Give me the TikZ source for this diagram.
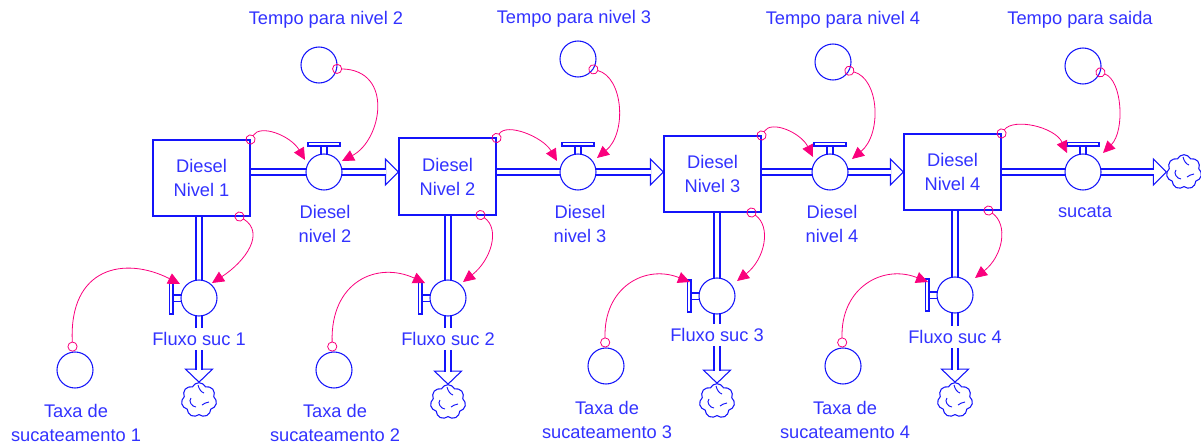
\documentclass[tikz,border=0pt]{standalone}
\usepackage{fontspec}
\setmainfont{Liberation Sans}
\usetikzlibrary{calc,arrows.meta,shapes.symbols}

\definecolor{flowblue}{RGB}{20,20,250}
\definecolor{labelblue}{RGB}{50,50,255}
\definecolor{linkpink}{RGB}{250,0,125}

\tikzset{
  lbl/.style={font=\fontsize{13.7}{18}\selectfont, text=labelblue, inner sep=1pt, align=center},
  stockbox/.style={lbl, draw=flowblue, fill=white, line width=0.8pt,
    minimum width=72.75pt, minimum height=57pt},
  auxvar/.style={circle, draw=flowblue, line width=0.8pt, minimum size=27pt, inner sep=0pt},
  valvebody/.style={circle, draw=flowblue, fill=white, line width=0.8pt, minimum size=27pt, inner sep=0pt},
  valveparts/.style={draw=flowblue, fill=white, line width=0.8pt},
  pipe/.style={draw=flowblue, line width=0.8pt, double=white, double distance=3.7pt},
  pipehead/.style={draw=flowblue, fill=white, line width=0.8pt, line join=miter},
  sink/.style={cloud, cloud puffs=7, cloud puff arc=130, aspect=1, draw=flowblue, fill=white, line width=0.8pt,
    minimum width=26.5pt, minimum height=26pt, inner sep=0pt},
  flowlbl/.style={lbl, fill=white, inner sep=3pt},
  link/.style={draw=linkpink, line width=0.6pt,
    {Circle[open,length=7.5pt]}-{Triangle[length=9pt,width=8.5pt]}, shorten <=-3.75pt},
  linkout/.style={draw=linkpink, line width=0.6pt,
    {Circle[open,length=7.5pt]}-{Triangle[length=9pt,width=8.5pt]}},
}

% valve on a horizontal pipe: body, stem and handle on top
\newcommand\valveH[3]{%
  \draw[valveparts] (#2-3,#3-26) rectangle (#2+3,#3-17);
  \draw[valveparts] (#2-16,#3-29.5) rectangle (#2+16,#3-26);
  \node[valvebody] (#1) at (#2,#3) {};
}
% valve on a vertical pipe: handle on the left side
\newcommand\valveV[3]{%
  \draw[valveparts] (#2-26,#3-3) rectangle (#2-17,#3+3.5);
  \draw[valveparts] (#2-29.5,#3-16) rectangle (#2-26,#3+16);
  \node[valvebody] (#1) at (#2,#3) {};
}
% swirls inside a cloud
\newcommand\swirl[1]{%
  \draw[flowblue, line width=0.7pt] ($(#1)+(-8,-2)$) .. controls +(-3,3) and +(-4,0) .. ($(#1)+(-3,7)$);
  \draw[flowblue, line width=0.7pt] ($(#1)+(10,2)$) .. controls +(-3,0) and +(2,-1) .. ($(#1)+(3,5)$);
  \draw[flowblue, line width=0.7pt] ($(#1)+(-1,-15)$) .. controls +(1,4) and +(-3,-1) .. ($(#1)+(5,-7)$);
}

\begin{document}
\begin{tikzpicture}[x=0.75pt, y=-0.75pt]
\useasboundingbox (0,0) rectangle (1201,443);

% clouds (sources/sinks)
\node[sink] (c1) at (199,400) {};
\node[sink] (c2) at (448,402) {};
\node[sink] (c3) at (717,401) {};
\node[sink] (c4) at (955,400) {};
\node[sink] (c5) at (1184,172) {};
\swirl{c1}\swirl{c2}\swirl{c3}\swirl{c4}\swirl{c5}

% valve positions
\path (324,172) coordinate (pv1) (578,172) coordinate (pv2)
      (830,172) coordinate (pv3) (1083,172) coordinate (pv4)
      (199,298) coordinate (pw1) (448,298) coordinate (pw2)
      (717,296) coordinate (pw3) (955,295) coordinate (pw4);

% stocks
\node[stockbox] (s1) at (201.5,178) {Diesel\\Nivel 1};
\node[stockbox] (s2) at (447.5,176.5) {Diesel\\Nivel 2};
\node[stockbox] (s3) at (712.5,174) {Diesel\\Nivel 3};
\node[stockbox] (s4) at (952.5,172) {Diesel\\Nivel 4};

% horizontal pipes between stocks
\draw[pipehead] (s2.west |- pv1) -- ++(-13,-13) -- ++(0,26) -- cycle;
\draw[pipe] (s1.east |- pv1) -- ($(s2.west |- pv1)+(-12.4,0)$);
\draw[pipehead] (s3.west |- pv2) -- ++(-13,-13) -- ++(0,26) -- cycle;
\draw[pipe] (s2.east |- pv2) -- ($(s3.west |- pv2)+(-12.4,0)$);
\draw[pipehead] (s4.west |- pv3) -- ++(-13,-13) -- ++(0,26) -- cycle;
\draw[pipe] (s3.east |- pv3) -- ($(s4.west |- pv3)+(-12.4,0)$);
\draw[pipehead] (c5.west |- pv4) -- ++(-13,-13) -- ++(0,26) -- cycle;
\draw[pipe] (s4.east |- pv4) -- ($(c5.west |- pv4)+(-12.4,0)$);

% vertical outflow pipes
\draw[pipehead] (c1.north) -- ++(-13.5,-13) -- ++(27,0) -- cycle;
\draw[pipe] (s1.south -| pw1) -- ($(c1.north)+(0,-12.4)$);
\draw[pipehead] (c2.north) -- ++(-13.5,-13) -- ++(27,0) -- cycle;
\draw[pipe] (s2.south -| pw2) -- ($(c2.north)+(0,-12.4)$);
\draw[pipehead] (c3.north) -- ++(-13.5,-13) -- ++(27,0) -- cycle;
\draw[pipe] (s3.south -| pw3) -- ($(c3.north)+(0,-12.4)$);
\draw[pipehead] (c4.north) -- ++(-13.5,-13) -- ++(27,0) -- cycle;
\draw[pipe] (s4.south -| pw4) -- ($(c4.north)+(0,-12.4)$);

% stock outlines over the pipe ends
\foreach \s in {s1,s2,s3,s4}
  \draw[flowblue, line width=0.8pt] (\s.north west) rectangle (\s.south east);

% valves
\valveH{v1}{324}{172}
\valveH{v2}{578}{172}
\valveH{v3}{830}{172}
\valveH{v4}{1083}{172}
\valveV{w1}{199}{298}
\valveV{w2}{448}{298}
\valveV{w3}{717}{296}
\valveV{w4}{955}{295}

% flow names
\node[lbl] (lv1) at (325,224) {Diesel\\nivel 2};
\node[lbl] (lv2) at (580,223.5) {Diesel\\nivel 3};
\node[lbl] (lv3) at (832,223.5) {Diesel\\nivel 4};
\node[lbl] (lv4) at (1085,212) {sucata};
\node[flowlbl] (lw1) at (199,339) {Fluxo suc 1};
\node[flowlbl] (lw2) at (448,339) {Fluxo suc 2};
\node[flowlbl] (lw3) at (717,335) {Fluxo suc 3};
\node[flowlbl] (lw4) at (955,337) {Fluxo suc 4};

% auxiliaries
\node[auxvar] (t2) at (319,65) {};
\node[auxvar] (t3) at (578,59) {};
\node[auxvar] (t4) at (833,62) {};
\node[auxvar] (t5) at (1083,66) {};
\node[lbl] (lt2) at (326,20) {Tempo para nivel 2};
\node[lbl] (lt3) at (574,19) {Tempo para nivel 3};
\node[lbl] (lt4) at (843,20) {Tempo para nivel 4};
\node[lbl] (lt5) at (1080,20) {Tempo para saida};

\node[auxvar] (r1) at (75,370) {};
\node[auxvar] (r2) at (334,370) {};
\node[auxvar] (r3) at (606,366) {};
\node[auxvar] (r4) at (843,366) {};
\node[lbl] (lr1) at (76,422.5) {Taxa de\\sucateamento 1};
\node[lbl] (lr2) at (335,422.5) {Taxa de\\sucateamento 2};
\node[lbl] (lr3) at (607,419.5) {Taxa de\\sucateamento 3};
\node[lbl] (lr4) at (845,419.5) {Taxa de\\sucateamento 4};

% information links
\draw[link] (s1.north east) .. controls +(10,-16) and +(-14,-24) .. ($(v1)+(-19,-12)$);
\draw[link] (t2.-12) .. controls +(57,1) and +(40,-21) .. ($(v1)+(18,-11)$);
\draw[link] ($(s1.south east)+(-11,0)$) .. controls +(26,16) and +(34,-22) .. ($(w1)+(13,-15)$);
\draw[linkout] (r1.97) .. controls +(-4,-85) and +(-55,-28) .. ($(w1)+(-19,-14)$);

\draw[link] (s2.north east) .. controls +(10,-16) and +(-14,-24) .. ($(v2)+(-21,-11)$);
\draw[link] (t3.-34) .. controls +(30,8) and +(30,-25) .. ($(v2)+(19,-14)$);
\draw[link] ($(s2.south east)+(-16,0)$) .. controls +(20,14) and +(28,-22) .. ($(w2)+(15,-16)$);
\draw[linkout] (r2.95) .. controls +(-2,-70) and +(-48,-22) .. ($(w2)+(-23,-15)$);

\draw[link] (s3.north east) .. controls +(10,-16) and +(-12,-24) .. ($(v3)+(-17,-15)$);
\draw[link] (t4.-28) .. controls +(30,8) and +(30,-25) .. ($(v3)+(22,-13)$);
\draw[link] ($(s3.south east)+(-10,0)$) .. controls +(20,14) and +(28,-22) .. ($(w3)+(20,-15)$);
\draw[linkout] (r3.92) .. controls +(-2,-60) and +(-45,-18) .. ($(w3)+(-27,-14)$);

\draw[link] (s4.north east) .. controls +(12,-16) and +(-12,-26) .. ($(v4)+(-16,-19)$);
\draw[link] (t5.-20) .. controls +(22,8) and +(22,-22) .. ($(v4)+(20,-19)$);
\draw[link] ($(s4.south east)+(-13,0)$) .. controls +(20,14) and +(28,-22) .. ($(w4)+(20,-17)$);
\draw[linkout] (r4.92) .. controls +(-2,-60) and +(-45,-18) .. ($(w4)+(-27,-13)$);
\end{tikzpicture}
\end{document}
